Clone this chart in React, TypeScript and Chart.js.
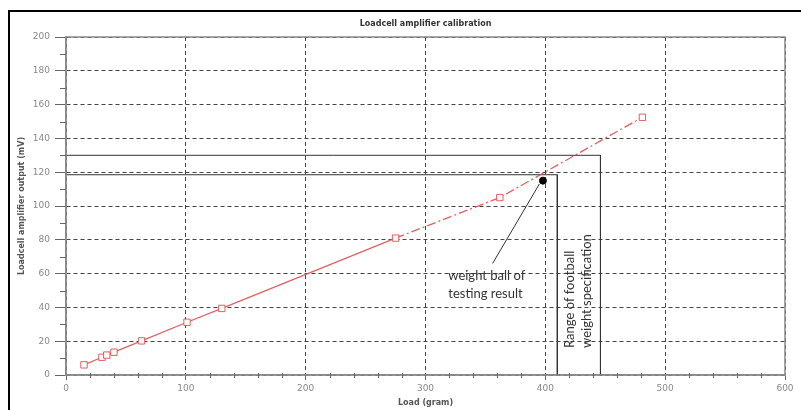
import React, { useEffect, useRef } from "react";
import { Chart, registerables } from "chart.js";

Chart.register(...registerables);

const loads = [15, 30, 34, 40, 63, 101, 130, 275, 362, 481];
const outputs = [6, 10.5, 11.8, 13.5, 20.2, 31.2, 39.4, 81, 105, 152.5];
const testPoint = [{ x: 398, y: 115 }];
const upperSpec = [{ x: 0, y: 130 }, { x: 446, y: 130 }, { x: 446, y: 0 }];
const lowerSpec = [{ x: 0, y: 118.5 }, { x: 410, y: 118.5 }, { x: 410, y: 0 }];
const arrowLine = [{ x: 395, y: 113 }, { x: 356, y: 66 }];
const xTicks = [0, 100, 200, 300, 400, 500, 600];
const yTicks = [0, 20, 40, 60, 80, 100, 120, 140, 160, 180, 200];
const xMinor = [20, 40, 60, 80, 120, 140, 160, 180, 220, 240, 260, 280, 320, 340, 360, 380, 420, 440, 460, 480, 520, 540, 560, 580];
const yMinor = [10, 30, 50, 70, 90, 110, 130, 150, 170, 190];
const titleText = "Loadcell amplifier calibration";
const xTitle = "Load (gram)";
const yTitle = "Loadcell amplifier output (mV)";
const noteTest = ["weight ball of", "testing result"];
const noteRange = ["Range of football", "weight specification"];
const theNoteX = 319;

const overlay = {
  id: "overlay",
  beforeDraw(chart: any) {
    const ctx = chart.ctx;
    ctx.save();
    ctx.fillStyle = "#ffffff";
    ctx.fillRect(0, 0, chart.width, chart.height);
    ctx.restore();
  },
  afterDraw(chart: any) {
    const ctx = chart.ctx;
    const xs = chart.scales.x;
    const ys = chart.scales.y;
    const a = chart.chartArea;
    ctx.save();
    ctx.strokeStyle = "#000";
    ctx.lineWidth = 2;
    ctx.beginPath();
    ctx.moveTo(9, chart.height + 2);
    ctx.lineTo(9, 11);
    ctx.lineTo(chart.width + 2, 11);
    ctx.stroke();
    ctx.strokeStyle = "#8a8a8a";
    ctx.lineWidth = 1.5;
    ctx.strokeRect(a.left, a.top, a.right - a.left, a.bottom - a.top);
    ctx.strokeStyle = "#666";
    ctx.lineWidth = 1;
    ctx.beginPath();
    yMinor.forEach((v) => {
      const p = Math.round(ys.getPixelForValue(v)) + 0.5;
      ctx.moveTo(a.left - 6, p);
      ctx.lineTo(a.left, p);
    });
    xMinor.forEach((v) => {
      const p = Math.round(xs.getPixelForValue(v)) + 0.5;
      ctx.moveTo(p, a.bottom - 2);
      ctx.lineTo(p, a.bottom + 3);
    });
    ctx.stroke();
    ctx.fillStyle = "#333";
    ctx.font = "bold 8px 'DejaVu Sans'";
    ctx.textAlign = "center";
    ctx.textBaseline = "middle";
    ctx.fillText(titleText, (a.left + a.right) / 2, 24);
    ctx.fillStyle = "#555";
    ctx.font = "bold 8px 'DejaVu Sans'";
    ctx.fillText(xTitle, (a.left + a.right) / 2, 403);
    ctx.save();
    ctx.translate(22, (a.top + a.bottom) / 2);
    ctx.rotate(-Math.PI / 2);
    ctx.fillText(yTitle, 0, 0);
    ctx.restore();
    ctx.fillStyle = "#333";
    ctx.font = "13px Lato";
    ctx.textAlign = "left";
    ctx.textBaseline = "middle";
    const nx = xs.getPixelForValue(theNoteX);
    ctx.fillText(noteTest[0], nx, ys.getPixelForValue(58.5));
    ctx.fillText(noteTest[1], nx, ys.getPixelForValue(48));
    ctx.save();
    ctx.translate(xs.getPixelForValue(428), ys.getPixelForValue(16));
    ctx.rotate(-Math.PI / 2);
    ctx.fillText(noteRange[0], 0, -9);
    ctx.fillText(noteRange[1], 0, 8);
    ctx.restore();
    ctx.restore();
  },
};

export default function App() {
  const ref = useRef<HTMLCanvasElement | null>(null);
  useEffect(() => {
    if (!ref.current) return;
    const red = "rgba(220,80,80,0.9)";
    const chart = new Chart(ref.current, {
      type: "scatter",
      data: {
        datasets: [
          { data: upperSpec, showLine: true, borderColor: "#333", borderWidth: 1, pointRadius: 0, order: 3 },
          { data: lowerSpec, showLine: true, borderColor: "#333", borderWidth: 1, pointRadius: 0, order: 3 },
          { data: arrowLine, showLine: true, borderColor: "#333", borderWidth: 1, pointRadius: 0, order: 3 },
          {
            data: loads.map((x, i) => ({ x, y: outputs[i] })),
            showLine: true,
            borderColor: red,
            borderWidth: 1.3,
            pointStyle: "rect",
            pointRadius: 4.5,
            pointBackgroundColor: "#fff",
            pointBorderColor: red,
            pointBorderWidth: 1,
            segment: {
              borderDash: (c: any) => (c.p0.parsed.x >= 270 ? [9, 3, 2, 3] : undefined),
            },
            order: 1,
          },
          {
            data: testPoint,
            pointRadius: 3.5,
            pointBackgroundColor: "#000",
            pointBorderColor: "#000",
            order: 0,
          },
        ],
      },
      options: {
        responsive: false,
        animation: false,
        layout: { padding: { top: 37, right: 16, left: 0, bottom: 0 } },
        plugins: { legend: { display: false }, tooltip: { enabled: false }, title: { display: false } },
        scales: {
          x: {
            type: "linear",
            min: 0,
            max: 600,
            afterFit: (s: any) => { s.height = 35; },
            afterBuildTicks: (s: any) => { s.ticks = xTicks.map((v) => ({ value: v })); },
            ticks: { color: "#888", font: { size: 9, family: "'DejaVu Sans'" }, padding: 3, maxRotation: 0 },
            grid: { color: "#444", lineWidth: 1, tickLength: 5, tickColor: "#666" },
            border: { display: true, color: "#8a8a8a", width: 1.5, dash: [4, 3] },
          },
          y: {
            type: "linear",
            min: 0,
            max: 200,
            afterFit: (s: any) => { s.width = 66; },
            afterBuildTicks: (s: any) => { s.ticks = yTicks.map((v) => ({ value: v })); },
            ticks: { color: "#888", font: { size: 9, family: "'DejaVu Sans'" }, padding: 5 },
            grid: { color: "#444", lineWidth: 1, tickLength: 11, tickColor: "#666" },
            border: { display: true, color: "#8a8a8a", width: 1.5, dash: [4, 3] },
          },
        },
      },
      plugins: [overlay],
    } as any);
    return () => chart.destroy();
  }, []);
  return (
    <div style={{ position: "absolute", left: 0, top: 0, width: 801, height: 410 }}>
      <canvas ref={ref} width={801} height={410} style={{ width: 801, height: 410 }} />
    </div>
  );
}
